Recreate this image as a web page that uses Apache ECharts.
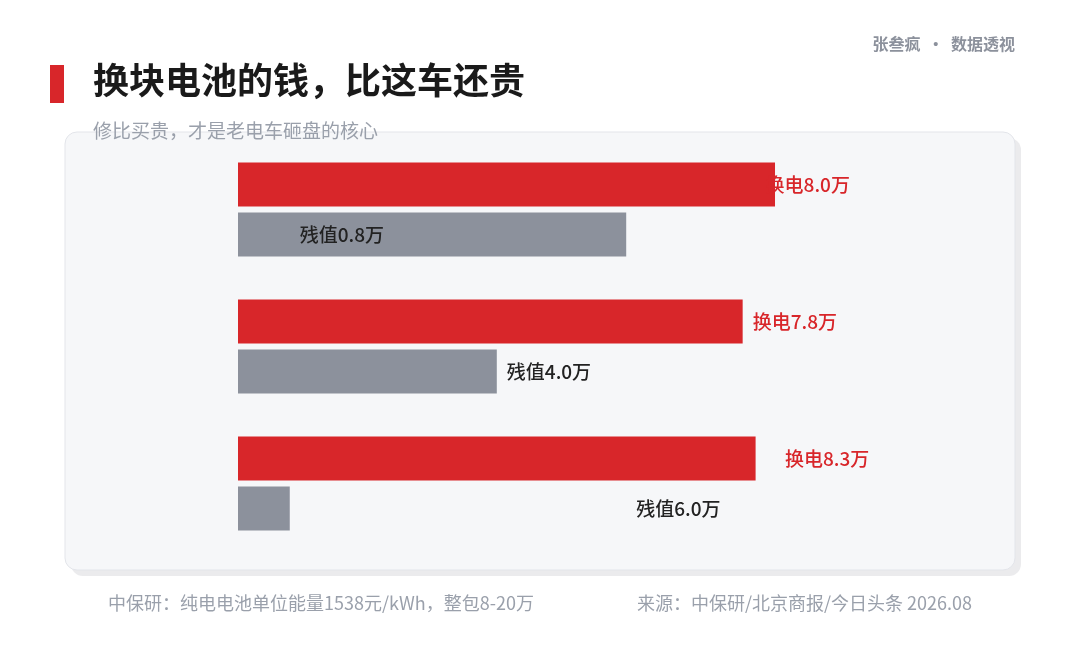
<!DOCTYPE html>
<html>
<head>
<meta charset="utf-8">
<script src="https://cdn.jsdelivr.net/npm/echarts@6/dist/echarts.min.js"></script>
<style>
  html, body { margin: 0; padding: 0; background: #fff; }
  #main { width: 1080px; height: 660px; }
</style>
</head>
<body>
<div id="main"></div>
<script>
// 三组车，轴标签不显示
const groups = ['第一组', '第二组', '第三组'];
// 换电价格（万元）
const swapCost = [8.0, 7.8, 8.3];
// 残值（万元）
const residual = [0.8, 4.0, 6.0];

const RED = '#d8262a';
const GRAY = '#8c919c';
const FONT = '"Noto Sans CJK SC", "Noto Sans", sans-serif';

const chart = echarts.init(document.getElementById('main'));

const option = {
  backgroundColor: '#ffffff',
  textStyle: { fontFamily: FONT },
  animation: false,
  title: [
    {
      text: '换块电池的钱，比这车还贵',
      left: 93, top: 62, padding: 0,
      textStyle: { fontSize: 36, fontWeight: 'bold', color: '#1a1a1a', fontFamily: FONT }
    },
    {
      text: '张叁疯  ·  数据透视',
      right: 65, top: 36, padding: 0,
      textStyle: { fontSize: 16, fontWeight: 'bold', color: '#8c919c', fontFamily: FONT }
    },
    {
      text: '中保研：纯电电池单位能量1538元/kWh，整包8-20万',
      left: 108, top: 594, padding: 0,
      textStyle: { fontSize: 18, fontWeight: 'normal', color: '#9aa0ab', fontFamily: FONT }
    },
    {
      text: '来源：中保研/北京商报/今日头条 2026.08',
      right: 108, top: 594, padding: 0,
      textStyle: { fontSize: 18, fontWeight: 'normal', color: '#9aa0ab', fontFamily: FONT }
    }
  ],
  graphic: [
    { type: 'rect', shape: { x: 50, y: 65, width: 14, height: 38 }, style: { fill: RED } },
    // 卡片阴影
    { type: 'rect', z: -2, shape: { x: 71, y: 138, width: 950, height: 438, r: 12 }, style: { fill: '#ebebed' } },
    // 卡片
    { type: 'rect', z: -1, shape: { x: 65, y: 132, width: 950, height: 438, r: 12 },
      style: { fill: '#f6f7f9', stroke: '#e3e5ea', lineWidth: 1 } },
    // 副标题压在卡片边上
    { type: 'text', z: 10, x: 93, y: 131,
      style: { text: '修比买贵，才是老电车砸盘的核心', fill: '#9aa0ab', fontSize: 19,
               fontFamily: FONT, verticalAlign: 'middle' } }
  ],
  grid: { left: 238, top: 141, width: 647, height: 411 },
  xAxis: { type: 'value', min: 0, max: 10, show: false, splitLine: { show: false } },
  yAxis: [
    { type: 'category', data: groups, show: false },
    { type: 'category', data: groups, show: false, inverse: true }
  ],
  series: [
    {
      name: '换电', type: 'bar', yAxisIndex: 0, data: swapCost,
      barWidth: 44, barGap: '14%', itemStyle: { color: RED }
    },
    {
      name: '残值', type: 'bar', yAxisIndex: 0, data: residual,
      barWidth: 44, barGap: '14%', itemStyle: { color: GRAY }
    },
    {
      name: '换电标签', type: 'bar', yAxisIndex: 1, data: swapCost,
      barWidth: 44, barGap: '14%', itemStyle: { color: 'rgba(0,0,0,0)' },
      label: {
        show: true, position: 'right', distance: 10,
        formatter: p => '换电' + p.value.toFixed(1) + '万',
        color: RED, fontSize: 19, fontWeight: 500, fontFamily: FONT
      }
    },
    {
      name: '残值标签', type: 'bar', yAxisIndex: 1, data: residual,
      barWidth: 44, barGap: '14%', itemStyle: { color: 'rgba(0,0,0,0)' },
      label: {
        show: true, position: 'right', distance: 10,
        formatter: p => '残值' + p.value.toFixed(1) + '万',
        color: '#222222', fontSize: 19, fontWeight: 500, fontFamily: FONT
      }
    }
  ]
};

chart.setOption(option);
</script>
</body>
</html>
